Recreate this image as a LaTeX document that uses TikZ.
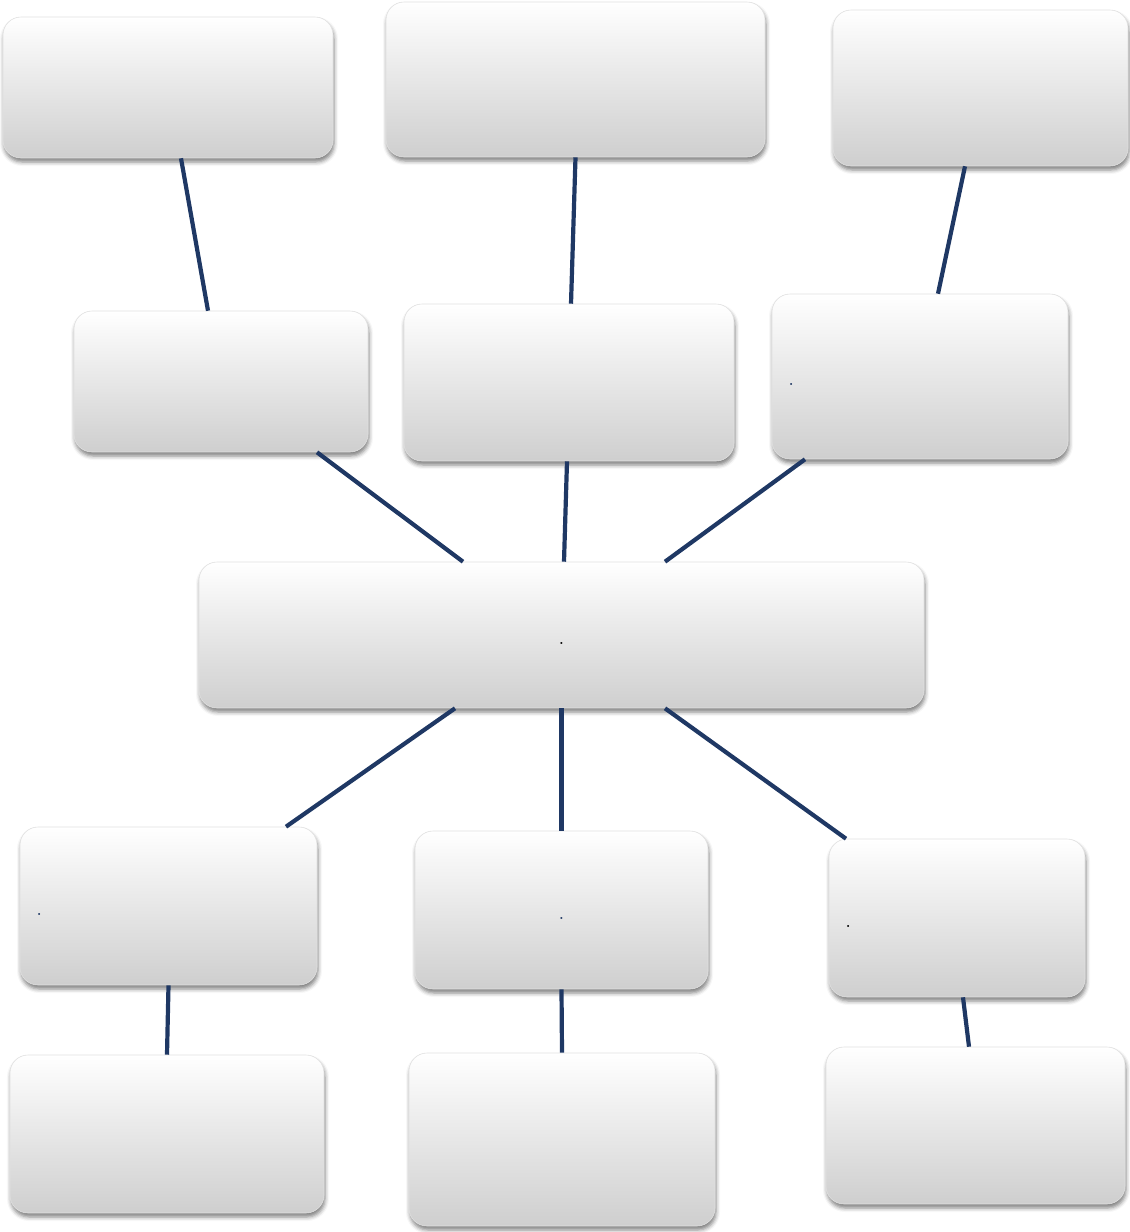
\documentclass[tikz,border=0pt]{standalone}
\usetikzlibrary{shadows.blur}
\definecolor{linkblue}{RGB}{31,56,100}
\begin{document}
\begin{tikzpicture}[x=1pt,y=-1pt,
    box/.style={rectangle, rounded corners=18pt, draw=black!12, line width=0.6pt,
        top color=white, middle color=white!97!black, bottom color=black!19,
        blur shadow={shadow xshift=1pt, shadow yshift=-4pt, shadow blur radius=4pt, shadow opacity=50},
        inner sep=0pt, font=\Huge, text height=18pt, text depth=0pt},
    lbox/.style={box, inner xsep=16pt, align=left},
    link/.style={draw=linkblue, line width=4.2pt}]
        \useasboundingbox (0,0) rectangle (1130,1232);
        % top row
        \node[box, minimum width=330, minimum height=141] (top1) at (168,87.5) {};
        \node[box, minimum width=379, minimum height=155] (top2) at (575.5,79.5) {};
        \node[box, minimum width=295, minimum height=156] (top3) at (980.5,88) {};
        % middle row
        \node[box, minimum width=294, minimum height=141] (mid1) at (221,381.5) {};
        \node[box, minimum width=330, minimum height=157] (mid2) at (569,382.5) {};
        \node[lbox, text width=264, minimum height=165, text=linkblue] (mid3) at (920,376.5) {.};
        % hub
        \node[box, minimum width=725, minimum height=146] (hub) at (561.5,635) {.};
        % lower row
        \node[lbox, text width=265, minimum height=158, text=linkblue] (low1) at (168.5,906) {.};
        \node[box, minimum width=293, minimum height=158, text=linkblue] (low2) at (561.5,910) {.};
        \node[lbox, text width=224, minimum height=158] (low3) at (957,918) {.};
        % bottom row
        \node[box, minimum width=314, minimum height=158] (base1) at (167,1134) {};
        \node[box, minimum width=306, minimum height=173] (base2) at (562,1139.5) {};
        \node[box, minimum width=299, minimum height=157] (base3) at (975.5,1125.5) {};
        % links
        \draw[link] ([xshift=13pt]top1.south) -- ([xshift=-13pt]mid1.north);
        \draw[link] (top2.south) -- ([xshift=2pt]mid2.north);
        \draw[link] ([xshift=-15.5pt]top3.south) -- ([xshift=18pt]mid3.north);
        \draw[link] ([xshift=96pt]mid1.south) -- ([xshift=-98.5pt]hub.north);
        \draw[link] ([xshift=-2pt]mid2.south) -- ([xshift=2.5pt]hub.north);
        \draw[link] ([xshift=-115pt]mid3.south) -- ([xshift=103.5pt]hub.north);
        \draw[link] ([xshift=-106.5pt]hub.south) -- ([xshift=117.5pt]low1.north);
        \draw[link] (hub.south) -- (low2.north);
        \draw[link] ([xshift=103.5pt]hub.south) -- ([xshift=-111pt]low3.north);
        \draw[link] (low1.south) -- (base1.north);
        \draw[link] (low2.south) -- (base2.north);
        \draw[link] ([xshift=6pt]low3.south) -- ([xshift=-6.5pt]base3.north);
\end{tikzpicture}
\end{document}
